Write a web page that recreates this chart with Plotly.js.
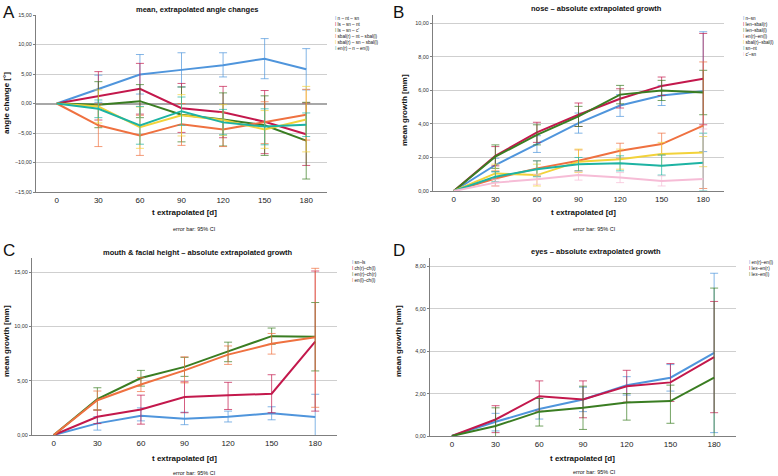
<!DOCTYPE html>
<html>
<head>
<meta charset="utf-8">
<script src="https://cdn.plot.ly/plotly-3.0.1.min.js"></script>
<style>
  body { margin: 0; background: #fff; }
  #plot { width: 778px; height: 476px; }
</style>
</head>
<body>
<div id="plot"></div>
<script>
// time points (days)
var days = ['0', '30', '60', '90', '120', '150', '180'];

// A - mean, extrapolated angle changes
var namesA = ['n – nt – sn', 'ls – sn – nt', "ls – sn – c'", 'sbal(r) – nt – sbal(l)', 'sbal(r) – sn – sbal(l)', 'en(r) – n – en(l)'];
var meanA = [
  [0, 2.5, 4.9, 5.7, 6.5, 7.6, 5.8],
  [0, 1.3, 2.5, -0.8, -1.5, -3.1, -5.2],
  [0, -0.2, 0.4, -1.9, -2.7, -3.7, -6.3],
  [0, -3.7, -5.4, -3.5, -4.4, -3.2, -1.9],
  [0, -0.5, -4.0, -2.0, -2.8, -4.4, -2.7],
  [0, -0.9, -3.7, -1.3, -3.2, -3.9, -3.6]
];
var upA = [
  [0, 4.8, 8.3, 8.6, 8.6, 11.0, 9.3],
  [0, 5.4, 6.8, 3.4, 2.9, 2.2, 0.1],
  [0, 3.7, 3.2, 2.8, 1.8, 1.3, 0.2],
  [0, -0.1, -2.0, 0.0, -1.5, 0.3, 2.4],
  [0, 2.3, -0.6, 1.5, -0.2, -1.2, 2.9],
  [0, 0.6, -0.5, 1.1, -1.0, -0.9, -1.6]
];
var loA = [
  [0, 0.2, 1.6, 2.8, 4.5, 4.2, 2.3],
  [0, -2.8, -1.8, -4.9, -5.8, -8.5, -10.5],
  [0, -4.1, -2.4, -6.5, -7.2, -8.8, -12.8],
  [0, -7.3, -8.8, -7.1, -7.3, -6.8, -6.2],
  [0, -3.3, -7.6, -5.5, -5.4, -7.6, -8.2],
  [0, -2.4, -6.9, -3.7, -5.3, -7.0, -5.6]
];

// B - nose
var namesB = ['n–sn', 'len–sbal(r)', 'len–sbal(l)', 'en(r)–en(l)', 'sbal(r)–sbal(l)', 'sn–nt', "c'–sn"];
var meanB = [
  [0, 1.55, 2.8, 4.05, 5.1, 5.7, 5.95],
  [0, 2.1, 3.5, 4.55, 5.5, 6.27, 6.7],
  [0, 2.05, 3.35, 4.45, 5.75, 6.0, 5.87],
  [0, 0.75, 1.35, 1.8, 2.4, 2.8, 3.9],
  [0, 1.05, 0.95, 1.75, 1.9, 2.2, 2.3],
  [0, 0.85, 1.3, 1.6, 1.65, 1.5, 1.68],
  [0, 0.5, 0.7, 0.95, 0.8, 0.6, 0.72]
];
var upB = [
  [0, 1.95, 3.3, 4.65, 5.75, 6.3, 9.5],
  [0, 2.65, 4.1, 5.25, 6.1, 6.8, 9.4],
  [0, 2.75, 3.95, 5.05, 6.3, 6.6, 7.2],
  [0, 1.2, 1.8, 2.45, 2.85, 3.45, 7.7],
  [0, 1.6, 1.6, 2.5, 2.5, 2.9, 3.25],
  [0, 1.15, 1.8, 2.0, 2.1, 2.15, 3.45],
  [0, 0.7, 1.0, 1.15, 1.1, 0.9, 3.7]
];
var loB = [
  [0, 1.15, 2.3, 3.45, 4.45, 5.1, 2.35],
  [0, 1.5, 2.9, 3.85, 4.95, 5.7, 3.95],
  [0, 1.35, 2.75, 3.85, 5.2, 5.4, 4.55],
  [0, 0.3, 0.9, 1.2, 1.95, 2.15, 0.15],
  [0, 0.5, 0.3, 1.1, 1.3, 1.5, 1.45],
  [0, 0.55, 0.85, 1.2, 1.2, 0.95, 0.0],
  [0, 0.3, 0.4, 0.65, 0.5, 0.3, -0.2]
];

// C - mouth & facial height
var namesC = ['sn–ls', 'ch(r)–ch(l)', 'en(r)–ch(r)', 'en(l)–ch(l)'];
var meanC = [
  [0, 1.07, 1.78, 1.5, 1.68, 2.0, 1.65],
  [0, 1.68, 2.35, 3.5, 3.65, 3.8, 8.6],
  [0, 3.3, 5.25, 6.27, 7.7, 9.1, 9.05],
  [0, 3.2, 4.65, 5.95, 7.4, 8.4, 9.0]
];
var upC = [
  [0, 1.7, 2.5, 2.1, 2.2, 2.6, 3.75],
  [0, 2.3, 3.67, 4.9, 4.85, 5.55, 15.1],
  [0, 4.35, 5.95, 7.15, 8.55, 9.85, 12.2],
  [0, 4.05, 5.3, 7.2, 8.2, 9.35, 15.35]
];
var loC = [
  [0, 0.45, 1.3, 0.95, 1.2, 1.4, -0.4],
  [0, 1.05, 1.0, 2.05, 2.35, 2.05, 2.2],
  [0, 2.3, 4.5, 5.4, 6.75, 8.35, 5.9],
  [0, 2.3, 4.0, 4.8, 6.5, 7.45, 2.55]
];

// D - eyes
var namesD = ['en(r)–en(l)', 'lex–en(r)', 'lex–en(l)'];
var meanD = [
  [0, 0.67, 1.27, 1.72, 2.4, 2.75, 3.92],
  [0, 0.78, 1.88, 1.72, 2.35, 2.53, 3.72],
  [0, 0.47, 1.15, 1.33, 1.58, 1.65, 2.75]
];
var upD = [
  [0, 1.07, 1.77, 2.3, 2.8, 3.37, 7.68],
  [0, 1.43, 2.6, 2.6, 3.1, 3.42, 6.35],
  [0, 1.33, 1.77, 2.35, 2.0, 2.4, 6.98]
];
var loD = [
  [0, 0.24, 0.8, 1.15, 1.93, 2.12, 0.16],
  [0, 0.16, 1.17, 0.86, 1.6, 1.63, 1.1],
  [0, -0.05, 0.47, 0.31, 0.75, 0.6, -1.4]
];

var colsA = ['#4f95dc', '#c3184c', '#3a7d22', '#ef7140', '#f2d23a', '#1db3a3'];
var colsB = ['#4f95dc', '#c3184c', '#3a7d22', '#ef7140', '#f2d23a', '#1db3a3', '#f6bcd6'];
var colsC = ['#4f95dc', '#c3184c', '#3a7d22', '#ef7140'];
var colsD = ['#4f95dc', '#c3184c', '#3a7d22'];

var FONT = 'Liberation Sans, Arial, sans-serif';
var W = 778, H = 476;
function px(x) { return x / W; }
function py(y) { return 1 - y / H; }

function fade(hex, a) {
  var r = parseInt(hex.slice(1, 3), 16), g = parseInt(hex.slice(3, 5), 16), b = parseInt(hex.slice(5, 7), 16);
  return 'rgba(' + r + ',' + g + ',' + b + ',' + a + ')';
}

var traces = [];
function addPanel(names, means, ups, los, cols, xa, ya) {
  for (var s = 0; s < names.length; s++) {
    var m = means[s];
    traces.push({
      x: days, y: m, type: 'scatter', mode: 'lines', name: names[s],
      xaxis: xa, yaxis: ya, showlegend: false,
      line: { color: cols[s], width: 2 },
      error_y: {
        type: 'data', symmetric: false,
        array: m.map(function (v, i) { return i === 0 ? NaN : ups[s][i] - v; }),
        arrayminus: m.map(function (v, i) { return i === 0 ? NaN : v - los[s][i]; }),
        color: fade(cols[s], 0.7), thickness: 1, width: 4
      }
    });
  }
}
addPanel(namesA, meanA, upA, loA, colsA, 'x', 'y');
addPanel(namesB, meanB, upB, loB, colsB, 'x2', 'y2');
addPanel(namesC, meanC, upC, loC, colsC, 'x3', 'y3');
addPanel(namesD, meanD, upD, loD, colsD, 'x4', 'y4');

function xax(d0, d1, anchor) {
  return {
    domain: [px(d0), px(d1)], anchor: anchor, type: 'category', range: [-0.5, 6.5],
    showline: true, linecolor: '#7f7f7f', linewidth: 1, showgrid: false, zeroline: false,
    ticks: '', tickfont: { family: FONT, size: 8, color: '#222' }, fixedrange: true
  };
}
function yax(top, bot, r, dt, anchor) {
  return {
    domain: [py(bot), py(top)], anchor: anchor, range: r, dtick: dt, tickformat: '.2f',
    showline: true, linecolor: '#7f7f7f', linewidth: 1, showgrid: true, gridcolor: '#cfcfcf',
    zeroline: false, ticks: 'outside', ticklen: 2, tickcolor: '#7f7f7f',
    tickfont: { family: FONT, size: 5.5, color: '#333' }, fixedrange: true
  };
}

var ann = [];
function txt(x, y, t, size, opts) {
  var a = {
    xref: 'paper', yref: 'paper', x: px(x), y: py(y), text: t, showarrow: false,
    xanchor: 'center', yanchor: 'middle', font: { family: FONT, size: size, color: '#111' }
  };
  for (var k in opts) a[k] = opts[k];
  ann.push(a);
}
function legendBox(x, y, names, cols) {
  var lines = names.map(function (n, i) {
    return '<span style="color:' + cols[i] + '">I</span> ' + n;
  });
  txt(x, y, lines.join('<br>'), 4.6, { xanchor: 'left', yanchor: 'top', align: 'left' });
}

// panel letters
txt(1, 1, 'A', 17, { xanchor: 'left', yanchor: 'top' });
txt(391, 1, 'B', 17, { xanchor: 'left', yanchor: 'top' });
txt(1, 239, 'C', 17, { xanchor: 'left', yanchor: 'top' });
txt(391, 239, 'D', 17, { xanchor: 'left', yanchor: 'top' });

// panel titles
txt(197, 9, '<b>mean, extrapolated angle changes</b>', 7.5);
txt(596, 8, '<b>nose – absolute extrapolated growth</b>', 7.5);
txt(198, 252, '<b>mouth &amp; facial height – absolute extrapolated growth</b>', 7.5);
txt(596, 251, '<b>eyes – absolute extrapolated growth</b>', 7.5);

// x axis titles
txt(184, 212, '<b>t extrapolated [d]</b>', 8);
txt(583, 212, '<b>t extrapolated [d]</b>', 8);
txt(184, 458, '<b>t extrapolated [d]</b>', 8);
txt(582, 458, '<b>t extrapolated [d]</b>', 8);

// notes
txt(194, 229, 'error bar: 95% CI', 5.5);
txt(594, 229, 'error bar: 95% CI', 5.5);
txt(195, 473, 'error bar: 95% CI', 5.5);
txt(594, 472, 'error bar: 95% CI', 5.5);

// y axis titles
txt(6, 103, '<b>angle change [°]</b>', 8, { textangle: -90 });
txt(404, 110, '<b>mean growth [mm]</b>', 8, { textangle: -90 });
txt(6, 341, '<b>mean growth [mm]</b>', 8, { textangle: -90 });
txt(398, 341, '<b>mean growth [mm]</b>', 8, { textangle: -90 });

// legends
legendBox(333, 14, namesA, colsA);
legendBox(741, 14, namesB, colsB);
legendBox(350, 258, namesC, colsC);
legendBox(747, 258, namesD, colsD);

var yA = yax(15, 192, [-15, 15], 5, 'x');
yA.zeroline = true; yA.zerolinecolor = '#a8a8a8'; yA.zerolinewidth = 2;

var layout = {
  width: W, height: H, margin: { l: 0, r: 0, t: 0, b: 0 },
  paper_bgcolor: '#fff', plot_bgcolor: '#fff', separators: ',.',
  showlegend: false,
  xaxis: xax(36, 327, 'y'),
  yaxis: yA,
  xaxis2: xax(433, 724, 'y2'),
  yaxis2: yax(15, 191, [0, 10.5], 2, 'x2'),
  xaxis3: xax(32, 337, 'y3'),
  yaxis3: yax(258, 435, [0, 16.3], 5, 'x3'),
  xaxis4: xax(430, 736, 'y4'),
  yaxis4: yax(258, 436, [0, 8.4], 2, 'x4'),
  annotations: ann
};

Plotly.newPlot('plot', traces, layout, { displayModeBar: false, staticPlot: true });
</script>
</body>
</html>
